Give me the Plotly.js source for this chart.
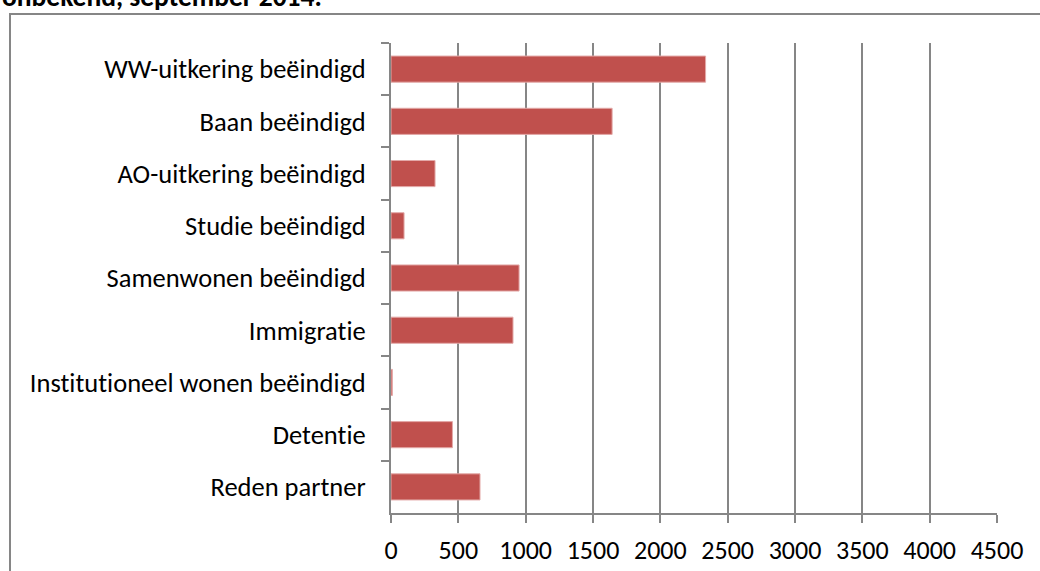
<!DOCTYPE html>
<html>
<head>
<meta charset="utf-8">
<script src="https://cdn.plot.ly/plotly-3.0.1.min.js"></script>
<style>
html,body{margin:0;padding:0;background:#fff;}
#chart{width:1040px;height:571px;}
#chart text{font-variant-ligatures:none;font-feature-settings:"liga" 0,"clig" 0;}
</style>
</head>
<body>
<div id="chart"></div>
<script>
const categories = [
  "WW-uitkering beëindigd",
  "Baan beëindigd",
  "AO-uitkering beëindigd",
  "Studie beëindigd",
  "Samenwonen beëindigd",
  "Immigratie",
  "Institutioneel wonen beëindigd",
  "Detentie",
  "Reden partner"
];
const values = [2336, 1642, 327, 97, 951, 906, 10, 456, 661];
const xTicks = [0, 500, 1000, 1500, 2000, 2500, 3000, 3500, 4000, 4500];
const titleText = "onbekend, september 2014.";

const W = 1040, H = 571;
const M = {l: 391, r: 43, t: 43, b: 58};
const pw = W - M.l - M.r, ph = H - M.t - M.b;
const px = p => (p - M.l) / pw;
const py = p => 1 - (p - M.t) / ph;
const FONT = "Carlito, Calibri, Lato, sans-serif";
const GRID = "#868686";

const trace = {
  type: "bar",
  orientation: "h",
  y: categories,
  x: values,
  marker: {color: "#C0504D", line: {color: "#E3A9A8", width: 1}},
  hoverinfo: "x+y"
};

const layout = {
  width: W, height: H,
  margin: M,
  paper_bgcolor: "#fff", plot_bgcolor: "#fff",
  showlegend: false,
  bargap: 0.5,
  font: {family: FONT, size: 26.5, color: "#000"},
  xaxis: {
    range: [0, 4500],
    tickvals: xTicks,
    ticktext: xTicks.map(String),
    showgrid: true, gridcolor: GRID, gridwidth: 2,
    zeroline: false,
    showline: true, linecolor: GRID, linewidth: 2,
    ticks: "outside", ticklen: 8, tickcolor: GRID, tickwidth: 2,
    tickfont: {family: FONT, size: 26, color: "#000"},
    ticklabelstandoff: 5,
    fixedrange: true
  },
  yaxis: {
    autorange: "reversed",
    type: "category",
    showgrid: false, zeroline: false,
    showline: true, linecolor: GRID, linewidth: 2,
    ticks: "outside", ticklen: 8, tickcolor: GRID, tickwidth: 2,
    tickson: "boundaries",
    tickfont: {family: FONT, size: 26.5, color: "#000"},
    ticklabelstandoff: 18,
    fixedrange: true
  },
  shapes: [{
    type: "rect", xref: "paper", yref: "paper",
    x0: px(10), x1: px(1060), y0: py(14), y1: py(600),
    line: {color: GRID, width: 2}, fillcolor: "rgba(0,0,0,0)", layer: "below"
  }],
  annotations: [{
    text: "<b>" + titleText + "</b>",
    xref: "paper", yref: "paper",
    x: px(0), y: py(15), xanchor: "left", yanchor: "bottom",
    showarrow: false,
    font: {family: FONT, size: 27.5, color: "#000"}
  }]
};

Plotly.newPlot("chart", [trace], layout, {displayModeBar: false, staticPlot: true});
</script>
</body>
</html>
